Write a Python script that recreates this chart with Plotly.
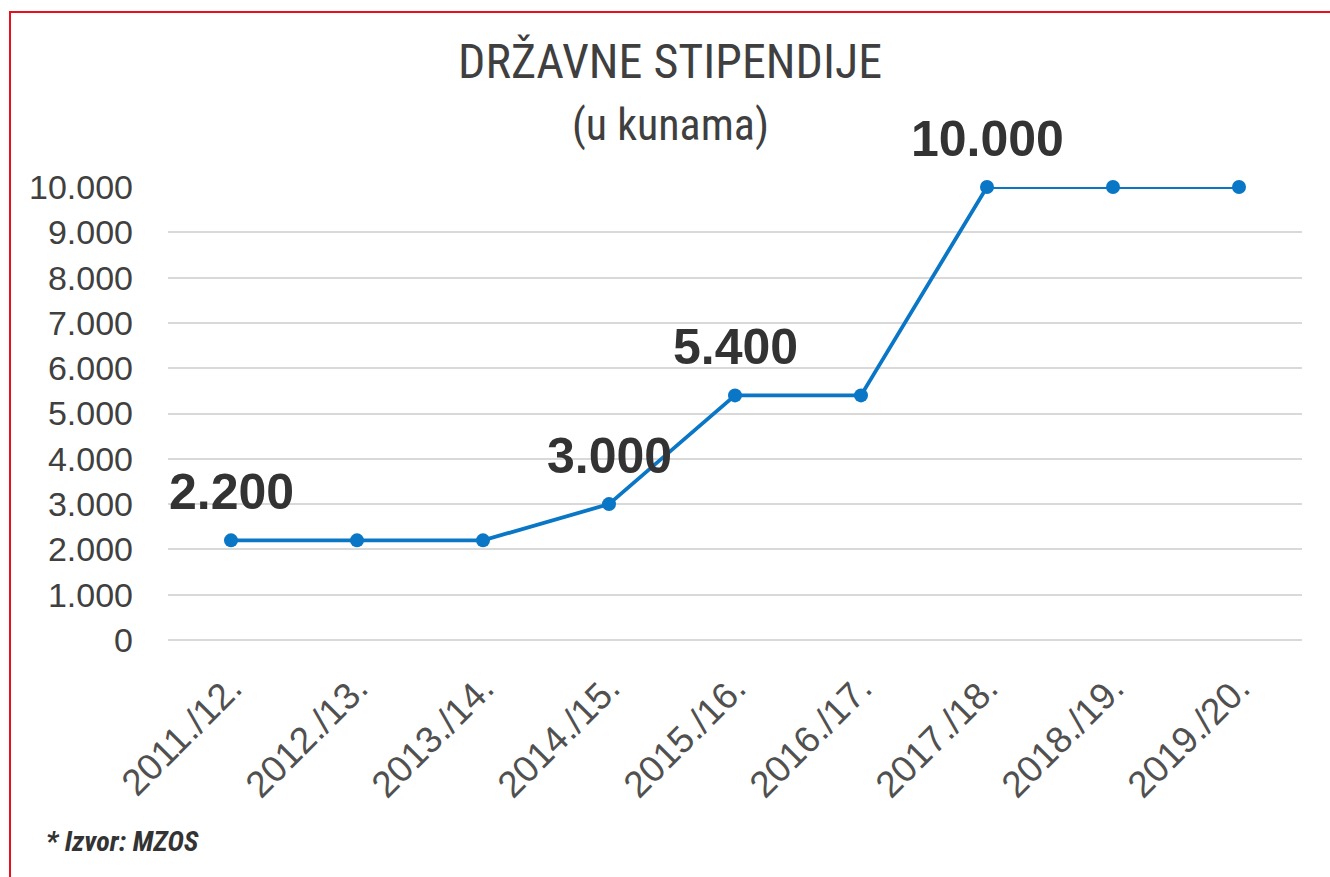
import plotly.graph_objects as go

categories = ["2011./12.", "2012./13.", "2013./14.", "2014./15.", "2015./16.",
              "2016./17.", "2017./18.", "2018./19.", "2019./20."]
values = [2200, 2200, 2200, 3000, 5400, 5400, 10000, 10000, 10000]
labelled = [0, 3, 4, 6]
y_ticks = [0, 1000, 2000, 3000, 4000, 5000, 6000, 7000, 8000, 9000, 10000]

W, H = 1330, 877
L, R, T, B = 168, 28, 187, 237
pw, ph = W - L - R, H - T - B

def px(xp):
    return (xp - L) / pw

def py(yp):
    return (H - B - yp) / ph

LINE = "#0a76c6"
TXT = "#404040"
NARROW = "Liberation Sans Narrow, Arial Narrow, Roboto Condensed, DejaVu Sans Condensed, sans-serif"

fig = go.Figure()
fig.add_trace(go.Scatter(
    x=categories, y=values, mode="lines+markers",
    line=dict(color=LINE, width=3.8),
    marker=dict(color=LINE, size=14),
    cliponaxis=False, showlegend=False, hoverinfo="x+y",
))

def fmt(v):
    return f"{v:,}".replace(",", ".")

annotations = []
for i in labelled:
    annotations.append(dict(
        x=categories[i], y=values[i], xref="x", yref="y",
        text=fmt(values[i]), showarrow=False, yshift=48,
        font=dict(family="Liberation Sans, Arial, sans-serif", size=50, color="#333333", weight="bold"),
    ))

annotations.append(dict(
    xref="paper", yref="paper", x=px(670), y=py(62), xanchor="center", yanchor="middle",
    text="DRŽAVNE STIPENDIJE", showarrow=False,
    font=dict(family=NARROW, size=48, color="#3f3f3f"),
))
annotations.append(dict(
    xref="paper", yref="paper", x=px(670), y=py(125), xanchor="center", yanchor="middle",
    text="(u kunama)", showarrow=False,
    font=dict(family=NARROW, size=44, color="#3f3f3f"),
))
annotations.append(dict(
    xref="paper", yref="paper", x=px(44), y=py(841), xanchor="left", yanchor="middle",
    text="<b><i>* Izvor: MZOS</i></b>", showarrow=False,
    font=dict(family=NARROW, size=28, color="#333333"),
))

shapes = [dict(
    type="rect", xref="paper", yref="paper",
    x0=px(10), x1=px(1345), y0=py(12), y1=py(895),
    line=dict(color="#e8101c", width=2), fillcolor="rgba(0,0,0,0)", layer="below",
)]

fig.update_layout(
    width=W, height=H,
    margin=dict(l=L, r=R, t=T, b=B, autoexpand=False),
    paper_bgcolor="white", plot_bgcolor="white",
    separators=",.",
    annotations=annotations, shapes=shapes,
    xaxis=dict(
        type="category", range=[-0.5, len(categories) - 0.5],
        tickangle=-45, showgrid=False, showline=False, ticks="",
        ticklabelstandoff=18,
        tickfont=dict(family="Liberation Sans, Arial, sans-serif", size=37, color="#505050"),
        fixedrange=True,
    ),
    yaxis=dict(
        range=[0, 10000], tickvals=y_ticks, tickformat=",d",
        showgrid=True, gridcolor="#d9d9d9", gridwidth=2,
        zeroline=True, zerolinecolor="#d9d9d9", zerolinewidth=2,
        showline=False, ticks="", ticklabelstandoff=34,
        tickfont=dict(family="Liberation Sans, Arial, sans-serif", size=34, color=TXT),
        fixedrange=True,
    ),
)

fig.write_html("out.html", config={"displayModeBar": False})

with open("out.html", "r", encoding="utf-8") as f:
    html = f.read()
html = html.replace("<head>", "<head><style>html,body{margin:0;padding:0;overflow:hidden;}</style>", 1)
with open("out.html", "w", encoding="utf-8") as f:
    f.write(html)
